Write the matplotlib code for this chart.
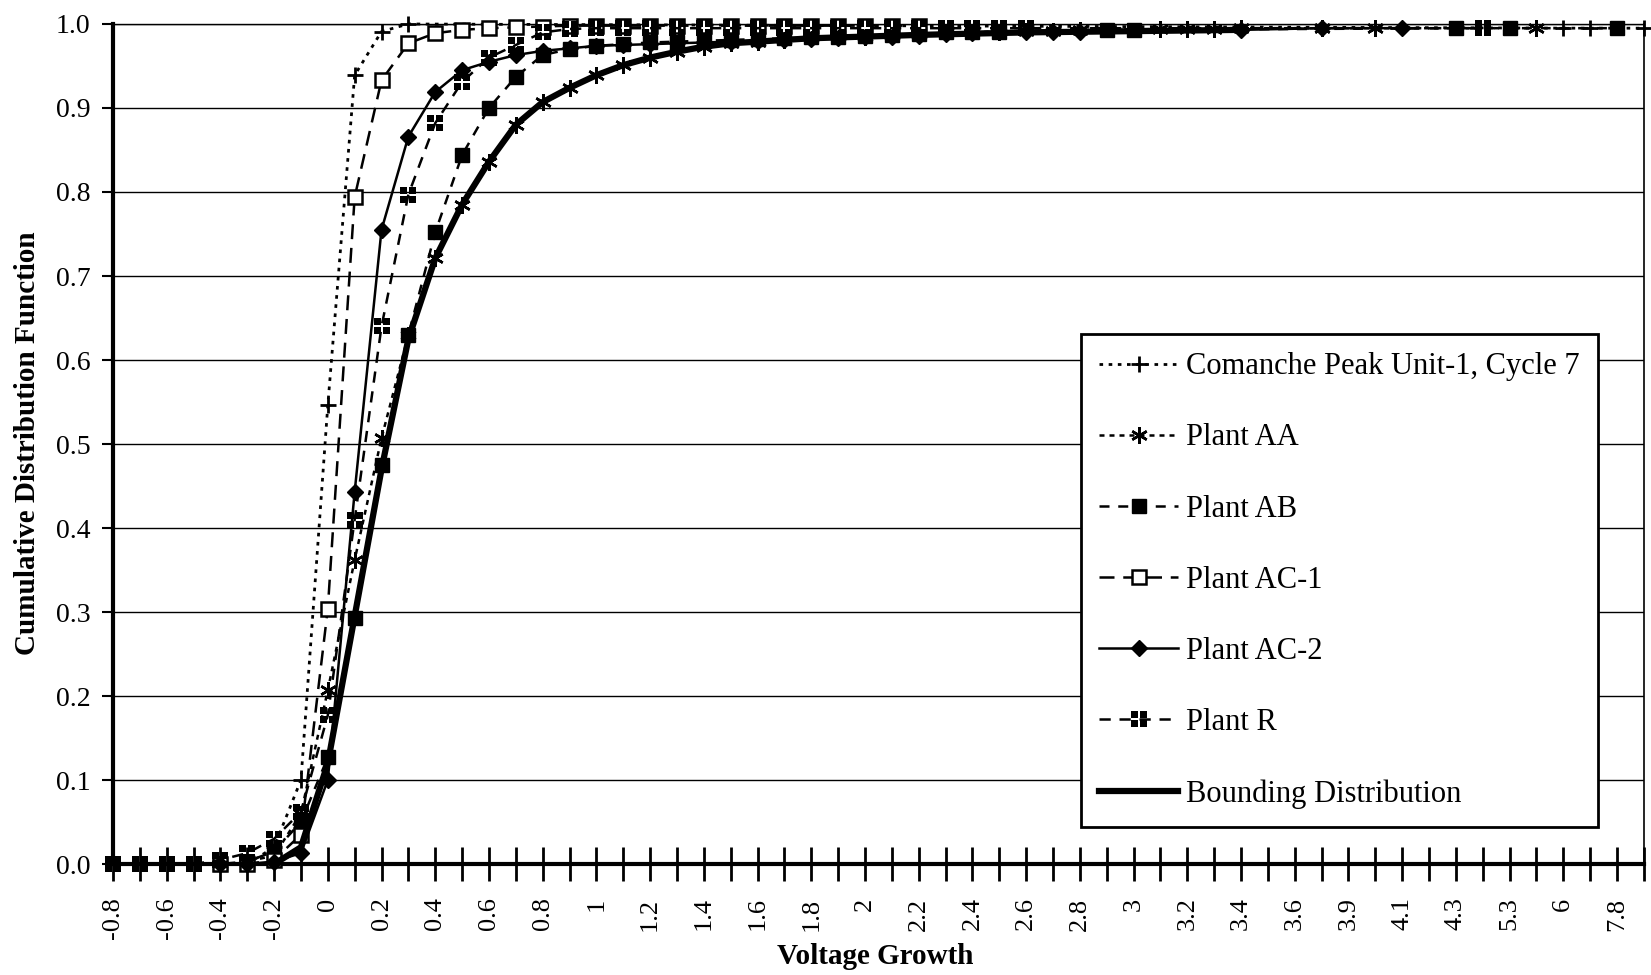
import numpy as np
import matplotlib
matplotlib.use('Agg')
import matplotlib.pyplot as plt
from matplotlib.path import Path

plt.rcParams['font.family'] = ['Liberation Serif', 'DejaVu Serif']

# x categories (Excel-style category axis, every other one labelled)
categories = ['-0.8', '-0.7', '-0.6', '-0.5', '-0.4', '-0.3', '-0.2', '-0.1',
              '0', '0.1', '0.2', '0.3', '0.4', '0.5', '0.6', '0.7', '0.8', '0.9',
              '1', '1.1', '1.2', '1.3', '1.4', '1.5', '1.6', '1.7', '1.8', '1.9',
              '2', '2.1', '2.2', '2.3', '2.4', '2.5', '2.6', '2.7', '2.8', '2.9',
              '3', '3.1', '3.2', '3.3', '3.4', '3.5', '3.6', '3.8', '3.9', '4',
              '4.1', '4.2', '4.3', '4.8', '5.3', '5.8', '6', '7.2', '7.8', '8.1']

comanche = {'-0.3': 0.0, '-0.2': 0.02, '-0.1': 0.10, '0': 0.546, '0.1': 0.939,
            '0.2': 0.991, '0.3': 1.0, '6': 0.995, '7.2': 0.995, '8.1': 0.995}

plant_aa = {'-0.4': 0.0, '-0.3': 0.003, '-0.2': 0.01, '-0.1': 0.06, '0': 0.207,
            '0.1': 0.362, '0.2': 0.507, '0.3': 0.63, '0.4': 0.721, '0.5': 0.785,
            '0.6': 0.836, '0.7': 0.88, '0.8': 0.907, '0.9': 0.924, '1': 0.939,
            '1.1': 0.951, '1.2': 0.96, '1.3': 0.967, '1.4': 0.973, '1.5': 0.977,
            '1.6': 0.979, '1.7': 0.981, '1.8': 0.983, '1.9': 0.984, '2': 0.985,
            '2.1': 0.986, '2.2': 0.987, '2.3': 0.99, '2.4': 0.99, '2.5': 0.991,
            '2.6': 0.992, '2.7': 0.992, '2.8': 0.993, '3.1': 0.994, '3.2': 0.994,
            '3.3': 0.994, '3.4': 0.995, '3.8': 0.995, '4': 0.995, '5.8': 0.995}

plant_ab = {'-0.4': 0.0, '-0.3': 0.003, '-0.2': 0.015, '-0.1': 0.05, '0': 0.127,
            '0.1': 0.293, '0.2': 0.475, '0.3': 0.63, '0.4': 0.752, '0.5': 0.844,
            '0.6': 0.90, '0.7': 0.937, '0.8': 0.963, '0.9': 0.97, '1': 0.974,
            '1.1': 0.976, '1.2': 0.978, '1.3': 0.979, '1.4': 0.98, '1.5': 0.981,
            '1.6': 0.982, '1.7': 0.983, '1.8': 0.984, '1.9': 0.985, '2': 0.986,
            '2.1': 0.987, '2.2': 0.988, '2.3': 0.99, '2.4': 0.99, '2.5': 0.991,
            '2.9': 0.993, '3': 0.993, '4.3': 0.995, '5.3': 0.995, '7.8': 0.995}

plant_ac1 = {'-0.4': 0.0, '-0.3': 0.0, '-0.2': 0.005, '-0.1': 0.035, '0': 0.304,
             '0.1': 0.794, '0.2': 0.933, '0.3': 0.977, '0.4': 0.989, '0.5': 0.993,
             '0.6': 0.995, '0.7': 0.996, '0.8': 0.997, '0.9': 0.998, '1': 0.998,
             '1.1': 0.998, '1.2': 0.998, '1.3': 0.998, '1.4': 0.998, '1.5': 0.998,
             '1.6': 0.998, '1.7': 0.998, '1.8': 0.998, '1.9': 0.998, '2': 0.998,
             '2.1': 0.998, '2.2': 0.998}

plant_ac2 = {'-0.4': 0.0, '-0.3': 0.0, '-0.2': 0.003, '-0.1': 0.013, '0': 0.10,
             '0.1': 0.443, '0.2': 0.755, '0.3': 0.866, '0.4': 0.919, '0.5': 0.945,
             '0.6': 0.955, '0.7': 0.963, '0.8': 0.968, '0.9': 0.971, '1': 0.974,
             '1.1': 0.975, '1.2': 0.976, '1.3': 0.977, '1.4': 0.978, '1.5': 0.979,
             '1.6': 0.98, '1.7': 0.981, '1.8': 0.982, '1.9': 0.983, '2': 0.984,
             '2.1': 0.985, '2.2': 0.986, '2.3': 0.988, '2.4': 0.989, '2.5': 0.99,
             '2.6': 0.99, '2.7': 0.991, '2.8': 0.991, '3.4': 0.993, '3.8': 0.995,
             '4.1': 0.995}

plant_r = {'-0.8': 0.0, '-0.7': 0.0, '-0.6': 0.0, '-0.5': 0.0, '-0.4': 0.005,
           '-0.3': 0.013, '-0.2': 0.03, '-0.1': 0.062, '0': 0.177, '0.1': 0.41,
           '0.2': 0.64, '0.3': 0.797, '0.4': 0.882, '0.5': 0.931, '0.6': 0.96,
           '0.7': 0.975, '0.8': 0.99, '0.9': 0.994, '1': 0.995, '1.1': 0.995,
           '1.2': 0.995, '1.3': 0.995, '1.4': 0.995, '1.5': 0.995, '1.6': 0.995,
           '1.7': 0.995, '1.8': 0.995, '1.9': 0.995, '2': 0.995, '2.1': 0.995,
           '2.2': 0.995, '2.3': 0.995, '2.4': 0.995, '2.5': 0.995, '2.6': 0.995,
           '4.8': 0.995}

bounding = {'-0.2': 0.0, '-0.1': 0.02, '0': 0.12, '0.1': 0.295, '0.2': 0.47,
            '0.3': 0.625, '0.4': 0.721, '0.5': 0.785, '0.6': 0.836, '0.7': 0.88,
            '0.8': 0.907, '0.9': 0.924, '1': 0.939, '1.1': 0.951, '1.2': 0.96,
            '1.3': 0.967, '1.4': 0.973, '1.5': 0.977, '1.6': 0.979, '1.7': 0.981,
            '1.8': 0.983, '1.9': 0.984, '2': 0.985, '2.1': 0.986, '2.2': 0.987,
            '2.6': 0.99, '3.4': 0.993}

# four small squares -> the "Plant R" marker
def quad(x0, y0, x1, y1):
    return [(x0, y0), (x1, y0), (x1, y1), (x0, y1), (x0, y0)]

verts = (quad(-1, -1, -0.15, -0.15) + quad(0.15, -1, 1, -0.15)
         + quad(-1, 0.15, -0.15, 1) + quad(0.15, 0.15, 1, 1))
codes = [Path.MOVETO, Path.LINETO, Path.LINETO, Path.LINETO, Path.CLOSEPOLY] * 4
r_marker = Path(verts, codes)

series = [
    ('Comanche Peak Unit-1, Cycle 7', comanche,
     dict(ls=(0, (1.3, 2)), lw=2, marker='+', ms=12, mew=2)),
    ('Plant AA', plant_aa,
     dict(ls=(0, (2, 2)), lw=1.8, marker=(6, 2, 0), ms=12, mew=1.8)),
    ('Plant AB', plant_ab,
     dict(ls=(0, (4, 3.5)), lw=1.8, marker='s', ms=10.5, mfc='black')),
    ('Plant AC-1', plant_ac1,
     dict(ls=(0, (6, 3.5)), lw=1.8, marker='s', ms=10.5, mfc='white', mew=1.8)),
    ('Plant AC-2', plant_ac2,
     dict(ls='-', lw=1.8, marker='D', ms=8, mfc='black')),
    ('Plant R', plant_r,
     dict(ls=(0, (4.5, 3.5)), lw=1.8, marker=r_marker, ms=11, mfc='black', mew=0)),
    ('Bounding Distribution', bounding,
     dict(ls='-', lw=4.5, marker=None)),
]

fig = plt.figure(figsize=(16.51, 9.75), dpi=100)
ax = fig.add_axes([0.0684, 0.1138, 0.9273, 0.8616])

for name, data, style in series:
    xs = [categories.index(k) for k in data]
    ys = list(data.values())
    ax.plot(xs, ys, color='black', label=name, clip_on=False, zorder=3, **style)

ax.set_xlim(0, 57)
ax.set_ylim(0, 1.0)

yt = np.arange(0, 1.01, 0.1)
ax.set_yticks(yt)
ax.set_yticklabels([f'{v:.1f}' for v in yt])
ax.yaxis.grid(True, color='black', lw=1)
ax.set_axisbelow(True)

ax.set_xticks(range(len(categories)))
ax.set_xticklabels([c if i % 2 == 0 else '' for i, c in enumerate(categories)],
                   rotation=90, va='top', ha='center')

ax.tick_params(axis='x', direction='inout', length=24, width=2, pad=12, labelsize=19)
ax.tick_params(axis='y', direction='out', length=8, width=1.5, pad=8, labelsize=20)

ax.spines['left'].set_linewidth(3)
ax.spines['bottom'].set_linewidth(3)
ax.spines['top'].set_linewidth(1)
ax.spines['right'].set_linewidth(1.2)

fig.text(28 / 1651, 1 - 443 / 975, 'Cumulative Distribution Function',
         rotation=90, ha='center', va='center', fontsize=21, fontweight='bold')
fig.text(875 / 1651, 1 - 956 / 975, 'Voltage Growth',
         ha='center', va='center', fontsize=21, fontweight='bold')

leg = ax.legend(loc='upper left', bbox_to_anchor=(0.632, 0.631), borderaxespad=0,
                fontsize=22, handlelength=2.6, handletextpad=0.25, labelspacing=1.38,
                borderpad=0.6, fancybox=False, edgecolor='black', framealpha=1)
leg.get_frame().set_linewidth(2)

fig.savefig('out.png', dpi=100)
